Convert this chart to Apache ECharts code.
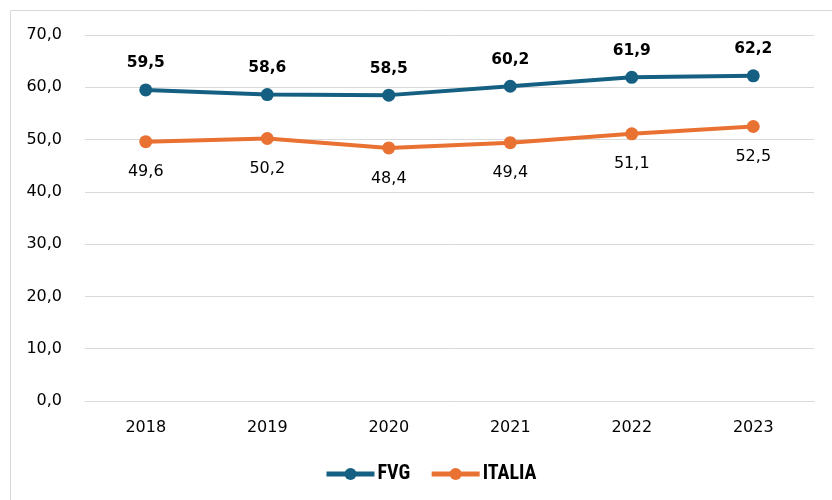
<!DOCTYPE html>
<html><head><meta charset="utf-8">
<script src="https://cdn.jsdelivr.net/npm/echarts@6/dist/echarts.min.js"></script>
<style>html,body{margin:0;padding:0;background:#fff}#c{width:832px;height:500px}</style>
</head><body><div id="c"></div>
<script>
var categories = ['2018','2019','2020','2021','2022','2023'];
var fvg = [59.5, 58.6, 58.5, 60.2, 61.9, 62.2];
var italia = [49.6, 50.2, 48.4, 49.4, 51.1, 52.5];
var seriesNames = ['FVG','ITALIA'];
function fmt(v){ return v.toFixed(1).replace('.', ','); }
var font = 'DejaVu Sans, Liberation Sans, Arial, sans-serif';
var chart = echarts.init(document.getElementById('c'), null, {renderer:'canvas'});
chart.setOption({
  animation:false,
  graphic:[{type:'rect', shape:{x:10.5,y:10.5,width:900,height:600}, style:{fill:'none', stroke:'#d9d9d9', lineWidth:1}, silent:true}],
  grid:{left:85, right:18, top:35, bottom:99},
  legend:{
    bottom:16, left:324, padding:0, itemWidth:48, itemHeight:15, itemGap:19,
    lineStyle:{width:5},
    textStyle:{fontFamily:'"Roboto Condensed", "Liberation Sans", sans-serif', fontWeight:'bold', fontSize:20, color:'#000', padding:[0,0,0,-2]},
    data:seriesNames
  },
  xAxis:{
    type:'category', data:categories, boundaryGap:true,
    axisLine:{show:true, lineStyle:{color:'#d9d9d9', width:1}},
    axisTick:{show:false},
    axisLabel:{color:'#000', fontSize:16, fontFamily:font, margin:19}
  },
  yAxis:{
    type:'value', min:0, max:70, interval:10,
    axisLine:{show:false}, axisTick:{show:false},
    splitLine:{lineStyle:{color:'#d9d9d9', width:1}},
    axisLabel:{color:'#000', fontSize:16, fontFamily:font, margin:23, formatter:function(v){return fmt(v);}}
  },
  series:[
    {name:seriesNames[0], type:'line', data:fvg, symbol:'circle', symbolSize:13,
     lineStyle:{color:'#156082', width:4}, itemStyle:{color:'#156082'},
     label:{show:true, position:'top', distance:12, fontWeight:'bold', fontSize:15.5, fontFamily:font, color:'#000', formatter:function(p){return fmt(p.value);}}},
    {name:seriesNames[1], type:'line', data:italia, symbol:'circle', symbolSize:13,
     lineStyle:{color:'#E97132', width:4}, itemStyle:{color:'#E97132'},
     label:{show:true, position:'bottom', distance:16, fontSize:16, fontFamily:font, color:'#000', formatter:function(p){return fmt(p.value);}}}
  ]
});
</script></body></html>
